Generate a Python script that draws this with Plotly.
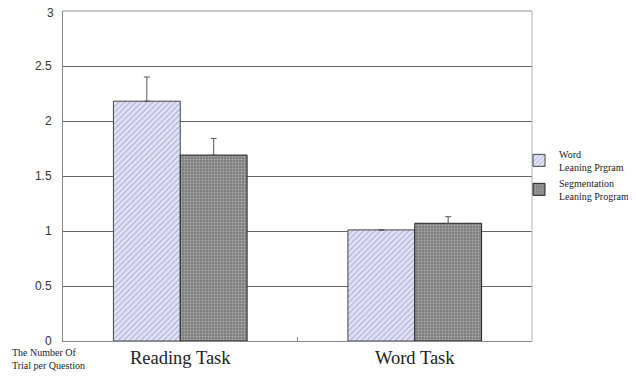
import plotly.graph_objects as go

categories = ["Reading Task", "Word Task"]
series_names = ["Word<br>Leaning Prgram", "Segmentation<br>Leaning Program"]
word_values = [2.18, 1.01]
word_errors = [0.22, float("nan")]
seg_values = [1.69, 1.07]
seg_errors = [0.15, 0.06]
y_ticks = [0, 0.5, 1, 1.5, 2, 2.5, 3]
y_ticklabels = ["0", "0.5", "1", "1.5", "2", "2.5", "3"]

tick_font = dict(family="Liberation Sans, Arial, sans-serif", size=12, color="#333333")

fig = go.Figure()
fig.add_trace(go.Bar(
    x=categories, y=word_values, name=series_names[0],
    marker=dict(color="#dcdcf6", line=dict(color="#444444", width=1),
                pattern=dict(shape="/", bgcolor="#e2e2f8", fgcolor="#a8a8d0",
                             size=4, solidity=0.25, fillmode="replace")),
    error_y=dict(type="data", array=word_errors, symmetric=False, arrayminus=[0, 0],
                 color="#555555", thickness=1, width=3, visible=True),
))
fig.add_trace(go.Bar(
    x=categories, y=seg_values, name=series_names[1],
    marker=dict(color="#858585", line=dict(color="#222222", width=1),
                pattern=dict(shape=".", bgcolor="#7c7c7c", fgcolor="#b0b0b0",
                             size=3, solidity=0.35, fillmode="replace")),
    error_y=dict(type="data", array=seg_errors, symmetric=False, arrayminus=[0, 0],
                 color="#555555", thickness=1, width=3, visible=True),
))

# top tick label drawn as an annotation so it is not clipped at the page edge
shown_ticktext = y_ticklabels[:-1] + [""]

fig.update_layout(
    width=628, height=370,
    margin=dict(l=55, r=104, t=3, b=37, autoexpand=False),
    paper_bgcolor="white", plot_bgcolor="white",
    barmode="group", bargap=0.43, bargroupgap=0,
    showlegend=True,
    legend=dict(xref="container", yref="container", x=0.8137, xanchor="left", y=0.549, yanchor="middle",
                font=dict(family="Liberation Serif, Times New Roman, serif", size=10, color="#222222"),
                tracegroupgap=10, bgcolor="rgba(0,0,0,0)"),
    xaxis=dict(
        showgrid=False, showline=True, linecolor="#888888", linewidth=1,
        ticks="inside", tickson="boundaries", ticklen=4, tickcolor="#888888",
        tickfont=dict(family="Liberation Serif, Times New Roman, serif", size=18.5, color="#222222"),
        automargin=False,
    ),
    yaxis=dict(
        range=[0, 3], tickvals=y_ticks, ticktext=shown_ticktext,
        showgrid=True, gridcolor="#666666", gridwidth=1,
        showline=True, linecolor="#888888", linewidth=1,
        ticks="", ticklabelstandoff=8, ticklabeloverflow="allow",
        tickfont=tick_font,
        zeroline=False, automargin=False,
    ),
    annotations=[
        dict(text="The Number Of<br>Trial per Question", xref="paper", yref="paper",
             x=-0.113, y=-0.012, xanchor="left", yanchor="top", align="left", showarrow=False,
             font=dict(family="Liberation Serif, Times New Roman, serif", size=10, color="#222222")),
        dict(text=y_ticklabels[-1], xref="paper", yref="y", x=0, y=y_ticks[-1],
             xanchor="right", yanchor="middle", xshift=-7, yshift=-2, showarrow=False,
             font=tick_font),
    ],
    shapes=[
        dict(type="line", xref="paper", yref="paper", x0=0, x1=1, y0=1, y1=1,
             line=dict(color="#c8c8c8", width=2), layer="above"),
        dict(type="line", xref="paper", yref="paper", x0=1, x1=1, y0=0, y1=1,
             line=dict(color="#b0b0b0", width=1), layer="above"),
    ],
)

fig.write_html("out.html")
